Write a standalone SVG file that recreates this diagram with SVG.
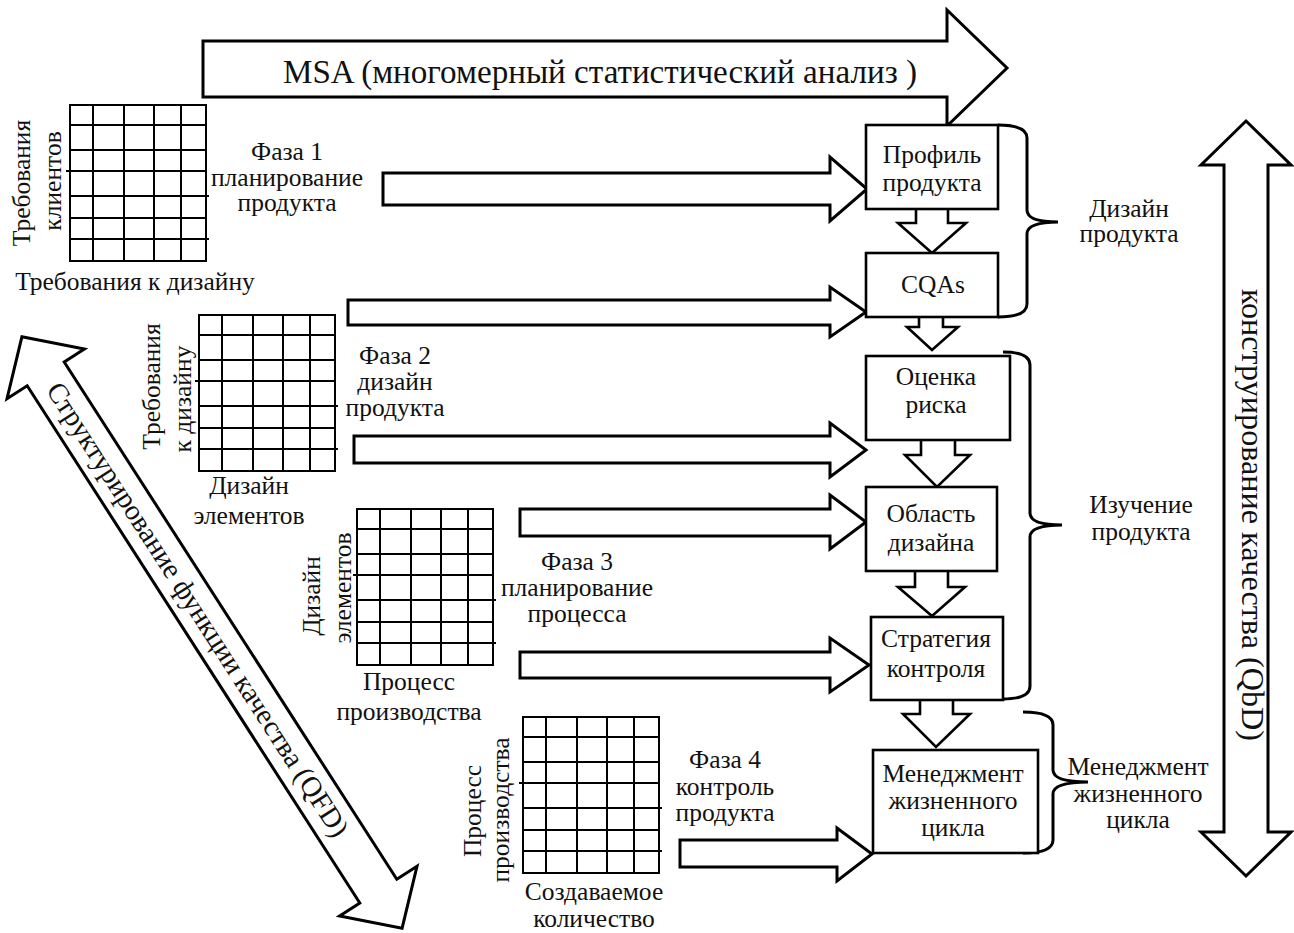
<svg xmlns="http://www.w3.org/2000/svg" xmlns:xlink="http://www.w3.org/1999/xlink" width="1294" height="933" viewBox="0 0 1294 933" font-family="'Liberation Serif', 'DejaVu Serif', serif">
<style>
text{font-family:'Liberation Serif','DejaVu Serif',serif;font-size:25.5px;fill:#111;}
.m{text-anchor:middle;}
.big{font-size:31px;}
.box{fill:#fff;stroke:#000;stroke-width:2.6;}
.arr{fill:#fff;stroke:#000;stroke-width:3;stroke-linejoin:miter;}
.darr{fill:#fff;stroke:#000;stroke-width:2.6;stroke-linejoin:miter;}
.brace{fill:none;stroke:#000;stroke-width:3;}
.gl{stroke:#000;stroke-width:2;fill:none;}
</style>
<defs>
<g id="grid">
<rect class="gl" x="0" y="0" width="136" height="156"/>
<path class="gl" d="M23,0V156M54,0V156M84,0V156M111,0V156M0,20H136M0,45H136M-4,66H136M0,91H139M0,113H136M0,134H139"/>
</g>
</defs>
<rect width="1294" height="933" fill="#fff"/>

<g id="msa">
<path class="arr" d="M203,41 H947 V10 L1007,68 L947,126 V97 H203 Z"/>
<text class="m" x="600" y="83" style="font-size:33px" textLength="634" lengthAdjust="spacingAndGlyphs">MSA (многомерный статистический анализ )</text>
</g>

<g id="qbd">
<path class="arr" d="M1246,121 L1291,165 L1268,165 L1268,832 L1291,832 L1246,876 L1201,832 L1224,832 L1224,165 L1201,165 Z"/>
<text class="big" transform="translate(1242,289) rotate(90)" textLength="452" lengthAdjust="spacingAndGlyphs">конструирование качества (QbD)</text>
</g>

<g id="qfd" transform="translate(212,632.5) rotate(57.26)">
<path class="arr" d="M-351.5,0 L-307.5,-46 L-307.5,-22 L307.5,-22 L307.5,-46 L351.5,0 L307.5,46 L307.5,22 L-307.5,22 L-307.5,46 Z"/>
<text class="m" x="-27" y="9" style="font-size:28.5px">Структурирование функции качества (QFD)</text>
</g>

<g id="matrix1">
<use xlink:href="#grid" x="70" y="105"/>
<text class="m" transform="translate(30,183) rotate(-90)">Требования</text>
<text class="m" transform="translate(61,181) rotate(-90)">клиентов</text>
<text class="m" x="135" y="290">Требования к дизайну</text>
</g>
<g id="phase1">
<text class="m" x="287" y="160">Фаза 1</text>
<text class="m" x="287" y="186">планирование</text>
<text class="m" x="287" y="211">продукта</text>
</g>

<g id="matrix2">
<use xlink:href="#grid" x="199" y="315"/>
<text class="m" transform="translate(160,386.5) rotate(-90)">Требования</text>
<text class="m" transform="translate(191,399) rotate(-90)">к дизайну</text>
<text class="m" x="249" y="494">Дизайн</text>
<text class="m" x="249" y="524">элементов</text>
</g>
<g id="phase2">
<text class="m" x="395" y="364">Фаза 2</text>
<text class="m" x="395" y="390">дизайн</text>
<text class="m" x="395" y="416">продукта</text>
</g>

<g id="matrix3">
<use xlink:href="#grid" x="357" y="509"/>
<text class="m" transform="translate(320,596) rotate(-90)">Дизайн</text>
<text class="m" transform="translate(351,588) rotate(-90)">элементов</text>
<text class="m" x="409" y="690">Процесс</text>
<text class="m" x="409" y="720">производства</text>
</g>
<g id="phase3">
<text class="m" x="577" y="570">Фаза 3</text>
<text class="m" x="577" y="596">планирование</text>
<text class="m" x="577" y="622">процесса</text>
</g>

<g id="matrix4">
<use xlink:href="#grid" x="523" y="717"/>
<text class="m" transform="translate(481,811) rotate(-90)">Процесс</text>
<text class="m" transform="translate(509,810) rotate(-90)">производства</text>
<text class="m" x="594" y="900">Создаваемое</text>
<text class="m" x="594" y="927">количество</text>
</g>
<g id="phase4">
<text class="m" x="725" y="768">Фаза 4</text>
<text class="m" x="725" y="795">контроль</text>
<text class="m" x="725" y="821">продукта</text>
</g>

<g id="connectors">
<path class="arr" d="M383,173 H830 V157 L867,189 L830,221 V205 H383 Z"/>
<path class="arr" d="M348,300 H830 V287 L866,312 L830,337 V325 H348 Z"/>
<path class="arr" d="M354,436 H830 V423 L866,450 L830,477 V463 H354 Z"/>
<path class="arr" d="M520,509 H830 V495 L866,522 L830,549 V536 H520 Z"/>
<path class="arr" d="M520,652 H830 V638 L869,665 L830,692 V678 H520 Z"/>
<path class="arr" d="M680,840 H837 V828 L872,854 L837,881 V867 H680 Z"/>
<path class="darr" d="M916,209 V223 H898 L932,253 L966,223 H948 V209"/>
<path class="darr" d="M919,317 V327 H907 L932,350 L958,327 H943 V317"/>
<path class="darr" d="M921,440 V455 H905 L937,487 L970,455 H955 V440"/>
<path class="darr" d="M915,571 V587 H898 L932,616 L965,587 H948 V571"/>
<path class="darr" d="M920,700 V714 H903 L936,747 L970,714 H953 V700"/>
<path class="brace" d="M998,125 Q1027,125 1027,138 L1027,210 Q1027,222 1058,222 Q1027,222 1027,234 L1027,304 Q1027,317 998,317"/>
<path class="brace" d="M1003,352 Q1030,352 1030,365 L1030,513 Q1030,525 1062,525 Q1030,525 1030,537 L1030,686 Q1030,699 1003,699"/>
<path class="brace" d="M1023,712 Q1053,712 1053,725 L1053,770 Q1053,782 1088,782 Q1053,782 1053,794 L1053,840 Q1053,853 1023,853"/>
</g>

<g id="profile">
<rect class="box" x="866" y="125" width="132" height="84"/>
<text class="m" x="932" y="163">Профиль</text>
<text class="m" x="932" y="191">продукта</text>
</g>
<g id="cqas">
<rect class="box" x="866" y="253" width="132" height="64"/>
<text class="m" x="933" y="293">CQAs</text>
</g>
<g id="risk">
<rect class="box" x="866" y="356" width="144" height="84"/>
<text class="m" x="936" y="385">Оценка</text>
<text class="m" x="936" y="413">риска</text>
</g>
<g id="space">
<rect class="box" x="866" y="487" width="131" height="84"/>
<text class="m" x="931" y="522">Область</text>
<text class="m" x="931" y="551">дизайна</text>
</g>
<g id="control">
<rect class="box" x="871" y="617" width="132" height="83"/>
<text class="m" x="936" y="647">Стратегия</text>
<text class="m" x="936" y="677">контроля</text>
</g>
<g id="lifecycle">
<rect class="box" x="873" y="750" width="165" height="103"/>
<text class="m" x="953" y="782">Менеджмент</text>
<text class="m" x="953" y="809">жизненного</text>
<text class="m" x="953" y="836">цикла</text>
</g>

<g id="label-design">
<text class="m" x="1129" y="217">Дизайн</text>
<text class="m" x="1129" y="242">продукта</text>
</g>
<g id="label-study">
<text class="m" x="1141" y="513">Изучение</text>
<text class="m" x="1141" y="540">продукта</text>
</g>
<g id="label-lifecycle">
<text class="m" x="1138" y="775">Менеджмент</text>
<text class="m" x="1138" y="802">жизненного</text>
<text class="m" x="1138" y="828">цикла</text>
</g>
</svg>
